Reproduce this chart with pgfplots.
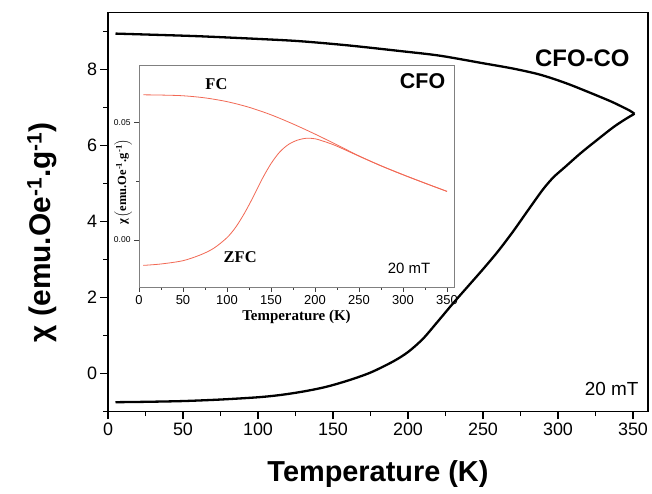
\documentclass[border=0pt]{standalone}
\usepackage{fontspec}
\setmainfont{Liberation Sans}
\newfontfamily\tnr{Liberation Serif}
\usepackage{pgfplots}
\pgfplotsset{compat=1.18}
\definecolor{cfored}{RGB}{242,104,84}

\begin{document}
\begin{tikzpicture}
\path[use as bounding box] (-108bp,-82.3bp) rectangle (544bp,411.7bp);
% main plot: CFO-CO
\begin{axis}[
    scale only axis,
    width=540bp, height=399bp,
    xmin=0, xmax=360,
    ymin=-1, ymax=9.5,
    xtick={0,50,...,350},
    minor xtick={25,75,...,325},
    ytick={0,2,...,8},
    minor ytick={-1,1,...,9},
    tick pos=left,
    tick align=outside,
    major tick length=7.5bp,
    minor tick length=4.5bp,
    axis line style={line width=1.3bp},
    every tick/.style={line width=1.2bp, black},
    tick label style={font=\fontsize{18}{20}\selectfont},
    /pgf/number format/assume math mode=true,
    xlabel={Temperature (K)},
    ylabel={χ (emu.Oe\textsuperscript{-1}.g\textsuperscript{-1})},
    xlabel style={font=\fontsize{29}{32}\selectfont\bfseries,
        at={(axis description cs:0.5,-0.155)}, anchor=center},
    ylabel style={font=\fontsize{30}{32}\selectfont\bfseries,
        at={(axis description cs:-0.122,0.45)}, anchor=center, rotate=0},
]
% FC branch
\addplot[black, line width=2.3bp, smooth] coordinates {
(5,8.95)(30,8.92)(61,8.88)(100,8.81)(128,8.75)(160,8.64)(195,8.49)(221,8.37)
(250,8.17)(270,8.03)(288,7.87)(305,7.65)(321,7.40)(335,7.17)(343,7.02)(348,6.92)(351,6.84)
};
% ZFC branch
\addplot[black, line width=2.3bp, smooth] coordinates {
(5,-0.75)(25,-0.74)(50,-0.72)(75,-0.68)(100,-0.62)(115,-0.56)(130,-0.47)(145,-0.35)
(160,-0.18)(175,0.03)(190,0.32)(200,0.57)(210,0.92)(220,1.38)(230,1.85)(240,2.30)
(250,2.75)(260,3.22)(270,3.74)(280,4.30)(290,4.85)(297,5.17)(305,5.45)(315,5.80)
(326,6.15)(337,6.49)(345,6.70)(351,6.84)
};
\node[anchor=east, font=\fontsize{24}{26}\selectfont\bfseries] at (axis cs:350,8.29) {CFO-CO};
\node[anchor=east, font=\fontsize{19}{21}\selectfont] at (axis cs:356,-0.39) {20 mT};
\end{axis}

% inset: CFO
\begin{axis}[
    at={(31bp,124.7bp)}, anchor=south west,
    scale only axis,
    width=315bp, height=222bp,
    xmin=0, xmax=358,
    ymin=-0.02, ymax=0.0745,
    axis background/.style={fill=white},
    axis line style={gray, line width=0.9bp},
    every tick/.style={line width=0.8bp, black!75},
    tick pos=left,
    tick align=outside,
    major tick length=5bp,
    minor tick length=3bp,
    xtick={0,50,...,350},
    minor xtick={25,75,...,325},
    ytick={0,0.05},
    minor ytick={0.025},
    scaled y ticks=false,
    /pgf/number format/assume math mode=true,
    xticklabel style={font=\fontsize{13}{14}\selectfont},
    yticklabel style={font=\fontsize{8.5}{9}\selectfont,
        /pgf/number format/.cd, fixed, fixed zerofill, precision=2},
    xlabel={Temperature (K)},
    ylabel={χ\,$\Big($emu.Oe\textsuperscript{-1}.g\textsuperscript{-1}$\Big)$},
    xlabel style={font=\fontsize{15}{16}\selectfont\tnr\bfseries,
        at={(axis description cs:0.5,-0.134)}, anchor=center},
    ylabel style={font=\fontsize{12.5}{13}\selectfont\tnr\bfseries,
        at={(axis description cs:-0.05,0.473)}, anchor=center},
]
% FC
\addplot[cfored, line width=0.8bp, smooth] coordinates {
(5,0.0618)(25,0.0617)(50,0.0614)(75,0.0605)(100,0.0589)(125,0.0565)(150,0.0533)
(175,0.0494)(200,0.0451)(225,0.0405)(250,0.0358)(275,0.0316)(300,0.0278)(325,0.0242)(350,0.0207)
};
% ZFC
\addplot[cfored, line width=0.8bp, smooth] coordinates {
(5,-0.0108)(25,-0.0102)(50,-0.0088)(70,-0.0063)(85,-0.0035)(100,0.0010)(110,0.0055)
(120,0.0115)(130,0.0185)(140,0.0260)(150,0.0325)(160,0.0375)(170,0.0407)(180,0.0425)
(190,0.0433)(200,0.0431)(210,0.0420)(220,0.0407)(230,0.0391)(250,0.0357)(275,0.0316)
(300,0.0278)(325,0.0242)(350,0.0207)
};
\node[font=\fontsize{16.5}{18}\selectfont\tnr\bfseries] at (axis cs:88,0.0663) {FC};
\node[font=\fontsize{16.5}{18}\selectfont\tnr\bfseries] at (axis cs:115,-0.0075) {ZFC};
\node[anchor=east, font=\fontsize{21.5}{23}\selectfont\bfseries] at (axis cs:352,0.0677) {CFO};
\node[anchor=east, font=\fontsize{15}{16}\selectfont] at (axis cs:335,-0.0122) {20 mT};
\end{axis}
\end{tikzpicture}
\end{document}
